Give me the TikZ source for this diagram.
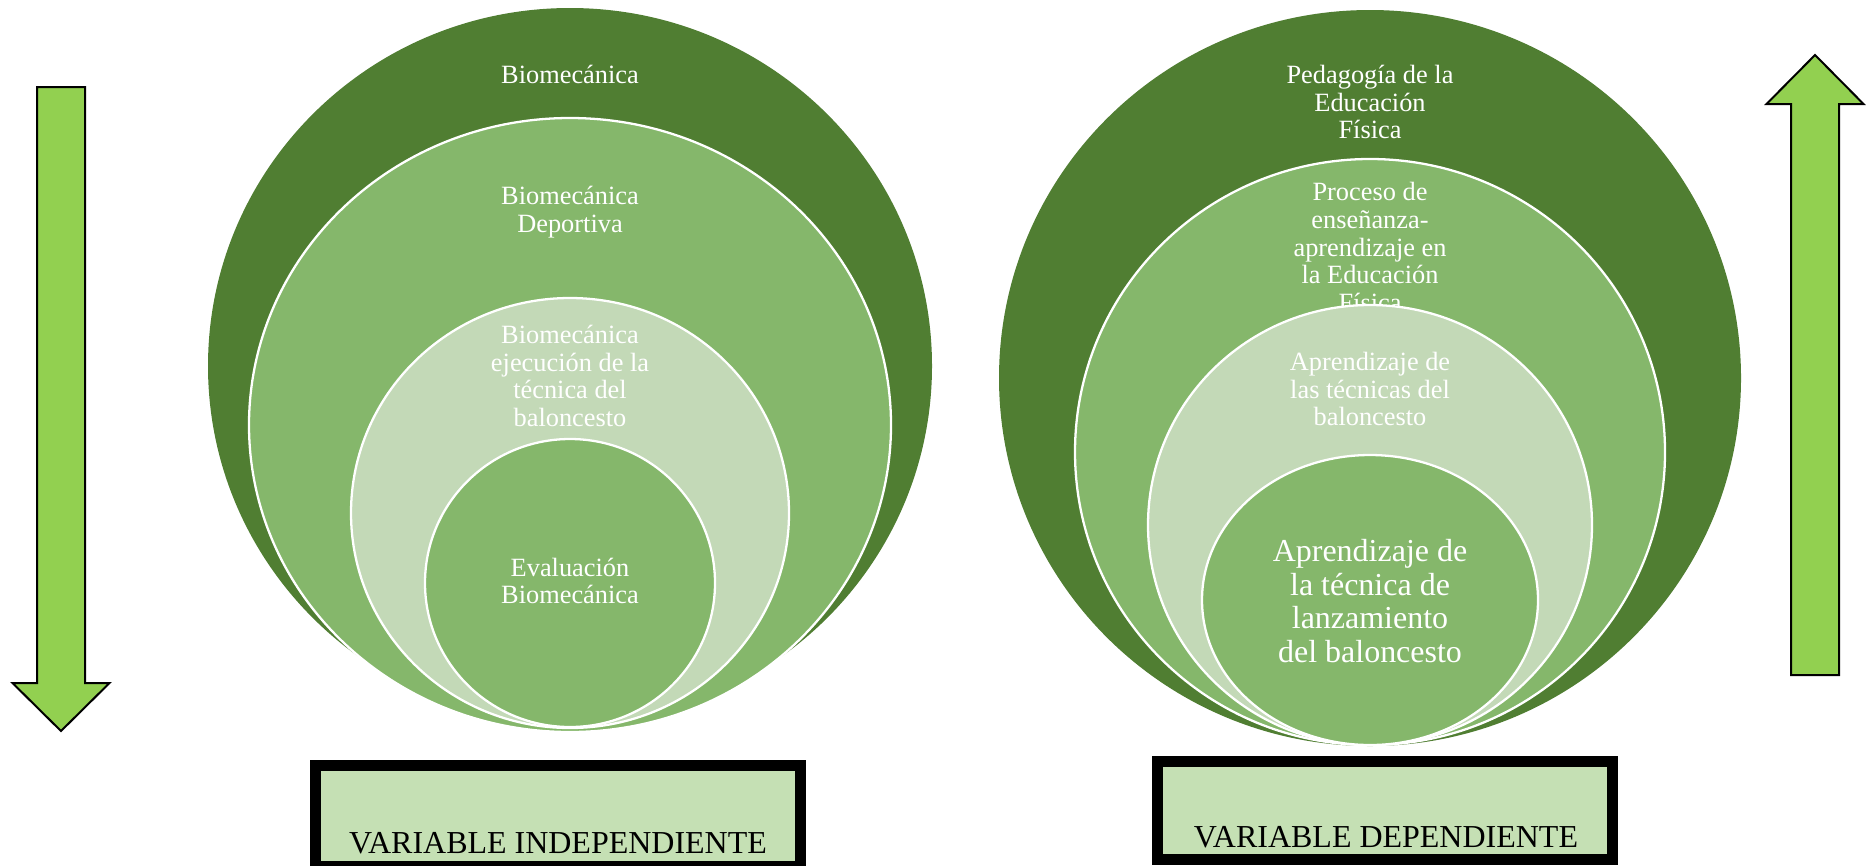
\documentclass[tikz,border=0pt]{standalone}
\usepackage{fontspec}
\setmainfont{Liberation Serif}
\usepackage{tikz}
\usetikzlibrary{positioning}

\definecolor{verdeOscuro}{HTML}{507E32}
\definecolor{verdeMedio}{HTML}{85B76B}
\definecolor{verdeClaro}{HTML}{C3D9B7}
\definecolor{verdeCaja}{HTML}{C5E0B4}
\definecolor{verdeFlecha}{HTML}{92D050}

\tikzset{
  aro/.style={draw=white, line width=1.3pt},
  rotulo/.style={text=white, align=center, inner sep=0pt,
    font=\fontsize{15}{15.7}\selectfont},
  rotulogrande/.style={rotulo, font=\fontsize{18.2}{19}\selectfont},
  caja/.style={draw=black, fill=verdeCaja, line width=2.2mm},
  flecha/.style={draw=black, fill=verdeFlecha, line width=0.4mm, line join=miter},
  rotulovar/.style={anchor=base, inner sep=0pt, font=\fontsize{18.2}{19}\selectfont}
}

\begin{document}
\begin{tikzpicture}[x=0.2mm, y=-0.2mm]
\useasboundingbox (0,0) rectangle (1872,865);
\clip (0,0) rectangle (1872,865);

% izquierda: de lo general a lo particular
\fill[verdeOscuro] (570,366) ellipse [x radius=362, y radius=358];
\node[rotulo] (biomecanica) at (570,74) {Biomecánica};
\filldraw[aro, fill=verdeMedio] (570,425) ellipse [x radius=321, y radius=307];
\node[rotulo] (deportiva) at (570,212) {Biomecánica\\Deportiva};
\filldraw[aro, fill=verdeClaro] (570,513) ellipse [x radius=219, y radius=215];
\node[rotulo] (ejecucion) at (570,376) {Biomecánica\\ejecución de la\\técnica del\\baloncesto};
\filldraw[aro, fill=verdeMedio] (570,583) ellipse [x radius=145, y radius=144];
\node[rotulo] (evaluacion) at (570,581) {Evaluación\\Biomecánica};

% derecha
\fill[verdeOscuro] (1370,378) ellipse [x radius=371, y radius=368];
\node[rotulo] (pedagogia) at (1370,102) {Pedagogía de la\\Educación\\Física};
\filldraw[aro, fill=verdeMedio] (1370,452) ellipse [x radius=295, y radius=293];
\node[rotulo, font=\fontsize{15}{15.9}\selectfont] (proceso) at (1370,247) {Proceso de\\enseñanza-\\aprendizaje en\\la Educación\\Física};
\filldraw[aro, fill=verdeClaro] (1370,525) ellipse [x radius=222, y radius=220];
\node[rotulo] (tecnicas) at (1370,389) {Aprendizaje de\\las técnicas del\\baloncesto};
\filldraw[aro, fill=verdeMedio] (1370,600) ellipse [x radius=168, y radius=145];
\node[rotulogrande] (lanzamiento) at (1370,601) {Aprendizaje de\\la técnica de\\lanzamiento\\del baloncesto};

% recuadros
\draw[caja] (315.5,765.5) rectangle (800.5,866);
\node[rotulovar] (independiente) at (558,853.5) {VARIABLE INDEPENDIENTE};
\draw[caja] (1157.5,761.5) rectangle (1612.5,859.5);
\node[rotulovar] (dependiente) at (1386,847) {VARIABLE DEPENDIENTE};

% flechas
\draw[flecha] (37,87) -- (85,87) -- (85,683) -- (109.5,683) -- (61,731) -- (12.5,683) -- (37,683) -- cycle;
\draw[flecha] (1791,675) -- (1839,675) -- (1839,104) -- (1863.5,104) -- (1815,55) -- (1766.5,104) -- (1791,104) -- cycle;
\end{tikzpicture}
\end{document}
